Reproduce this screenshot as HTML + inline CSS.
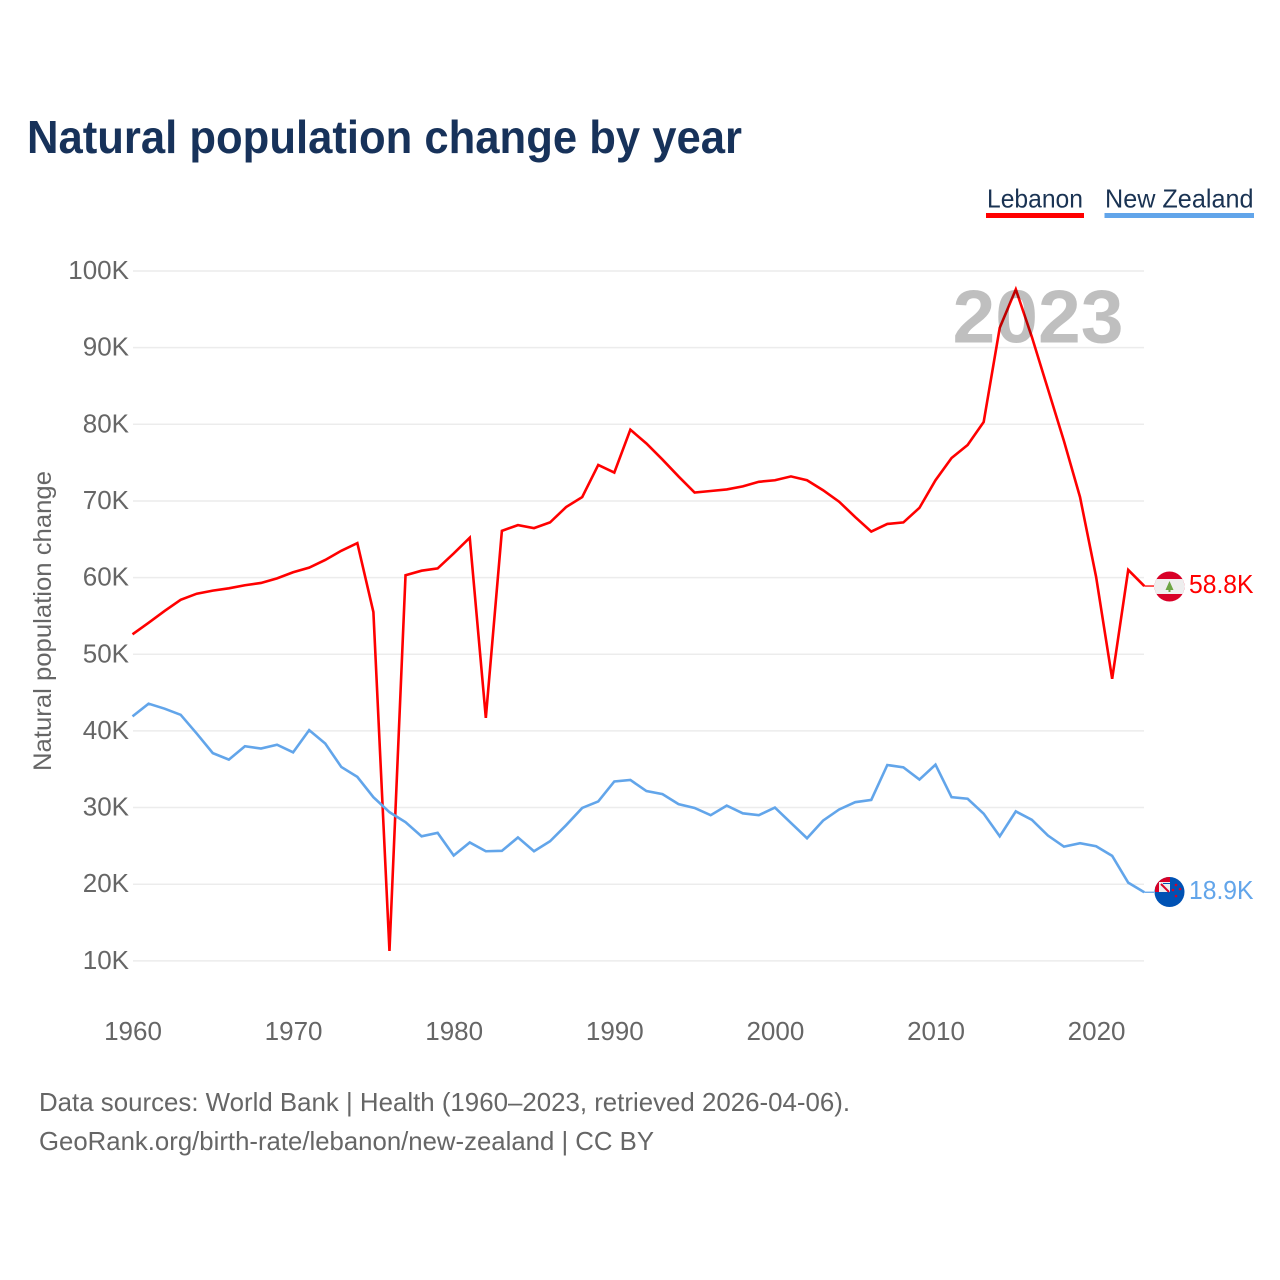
<!DOCTYPE html>
<html lang="en">
<head>
<meta charset="utf-8">
<title>Natural population change by year</title>
<style>
html,body{margin:0;padding:0;background:#fff;width:1280px;height:1280px;overflow:hidden}
svg{display:block}
text{font-family:"Liberation Sans",sans-serif}
.tick{font-size:26px;fill:#666}
.foot{font-size:26px;fill:#666}
.leg{font-size:26px;fill:#1a3353}
</style>
</head>
<body>
<svg id="chart" xmlns="http://www.w3.org/2000/svg" width="1280" height="1280" viewBox="0 0 1280 1280">
  <rect width="1280" height="1280" fill="#fff"/>
  <text x="27" y="153" font-size="46" font-weight="700" fill="#17325a" textLength="715" lengthAdjust="spacingAndGlyphs">Natural population change by year</text>

  <g>
    <text class="leg" x="987" y="207.500" textLength="96" lengthAdjust="spacingAndGlyphs">Lebanon</text>
    <rect x="986" y="213" width="98" height="5" fill="#ff0000"/>
  </g>
  <g>
    <text class="leg" x="1105" y="207.500" textLength="148.500" lengthAdjust="spacingAndGlyphs">New Zealand</text>
    <rect x="1104.5" y="213" width="149.5" height="5" fill="#62a5ea"/>
  </g>

  <g id="grid"></g>
  <g id="yTicks"></g>
  <g id="xTicks"></g>
  <text transform="translate(51 621) rotate(-90)" text-anchor="middle" font-size="25" fill="#666" textLength="300" lengthAdjust="spacingAndGlyphs">Natural population change</text>

  <g id="series"></g>

  <text x="1123.5" y="342.500" text-anchor="end" font-size="75" font-weight="700" fill="#000" fill-opacity="0.25" textLength="171" lengthAdjust="spacingAndGlyphs">2023</text>

  <g id="ends"></g>

  <defs>
    <clipPath id="clipLb"><circle cx="1169.5" cy="586.5" r="15"/></clipPath>
    <clipPath id="clipNz"><circle cx="1169.5" cy="892" r="15"/></clipPath>
  </defs>
  <g clip-path="url(#clipLb)">
    <rect x="1154" y="571" width="31" height="31" fill="#d80027"/>
    <rect x="1154" y="579" width="31" height="15" fill="#eeeeee"/>
    <polygon points="1169.5,581 1173.5,590 1170.5,590 1170.5,592 1168.5,592 1168.5,590 1165.5,590" fill="#6da544"/>
  </g>
  <g clip-path="url(#clipNz)">
    <rect x="1154" y="877" width="31" height="31" fill="#0052b4"/>
    <rect x="1155" y="877" width="15" height="15" fill="#d80027"/>
    <rect x="1159" y="882" width="11" height="10" fill="#eeeeee"/>
    <path d="M1161 884 L1169 892" stroke="#d80027" stroke-width="2" fill="none"/>
    <path d="M1163 883.500 L1170 883.500" stroke="#0052b4" stroke-width="1" fill="none"/>
    <circle cx="1176" cy="885" r="1.3" fill="#d80027"/>
    <circle cx="1173" cy="890" r="1.3" fill="#d80027"/>
    <circle cx="1180" cy="889" r="1.3" fill="#d80027"/>
    <circle cx="1176" cy="896" r="1.3" fill="#d80027"/>
  </g>

  <text class="foot" x="39" y="1111" textLength="811" lengthAdjust="spacingAndGlyphs">Data sources: World Bank | Health (1960–2023, retrieved 2026-04-06).</text>
  <text class="foot" x="39" y="1150" textLength="615" lengthAdjust="spacingAndGlyphs">GeoRank.org/birth-rate/lebanon/new-zealand | CC BY</text>
</svg>
<script>
var years = [1960,1961,1962,1963,1964,1965,1966,1967,1968,1969,1970,1971,1972,1973,1974,1975,1976,1977,1978,1979,1980,1981,1982,1983,1984,1985,1986,1987,1988,1989,1990,1991,1992,1993,1994,1995,1996,1997,1998,1999,2000,2001,2002,2003,2004,2005,2006,2007,2008,2009,2010,2011,2012,2013,2014,2015,2016,2017,2018,2019,2020,2021,2022,2023];
var lebanonValues = [52.6,54.1,55.65,57.1,57.9,58.3,58.6,59.0,59.3,59.9,60.7,61.3,62.3,63.5,64.5,55.5,11.3,60.3,60.9,61.2,63.15,65.2,41.7,66.1,66.85,66.45,67.2,69.2,70.5,74.7,73.7,79.3,77.5,75.4,73.2,71.1,71.3,71.5,71.9,72.5,72.7,73.2,72.7,71.4,69.9,67.9,66.0,67.0,67.2,69.1,72.7,75.6,77.3,80.3,92.6,97.6,91.4,84.6,77.8,70.5,60.1,46.8,61.0,58.9];
var newZealandValues = [41.9,43.55,42.9,42.1,39.65,37.1,36.25,38.0,37.7,38.2,37.2,40.1,38.35,35.3,34.0,31.35,29.4,28.1,26.25,26.7,23.75,25.45,24.3,24.35,26.1,24.3,25.6,27.7,29.95,30.8,33.4,33.6,32.15,31.75,30.45,29.95,29.0,30.25,29.25,29.0,30.0,28.0,26.0,28.3,29.75,30.7,31.0,35.55,35.25,33.65,35.6,31.35,31.15,29.2,26.25,29.5,28.4,26.35,24.9,25.35,24.95,23.7,20.2,18.95];
var yTickValues = [100,90,80,70,60,50,40,30,20,10];
var xTickValues = [1960,1970,1980,1990,2000,2010,2020];
var lebanonLabel = "58.8K";
var newZealandLabel = "18.9K";

var NS = "http://www.w3.org/2000/svg";
function xScale(year){ return 132.5 + (year - 1960) * 16.06; }
function yScale(value){ return 271 + (100 - value) * 7.665; }
function make(tag, parent, attrs){
  var el = document.createElementNS(NS, tag);
  for (var k in attrs) el.setAttribute(k, attrs[k]);
  parent.appendChild(el);
  return el;
}
var gridG = document.getElementById('grid');
var yG = document.getElementById('yTicks');
var xG = document.getElementById('xTicks');
var seriesG = document.getElementById('series');
var endsG = document.getElementById('ends');

yTickValues.forEach(function(v){
  var line = make('line', gridG, {x1:133, x2:1144, y1:yScale(v), y2:yScale(v), stroke:'#ececec', 'stroke-width':1.5});
  
  
  var t = make('text', yG, {x:129, y:yScale(v) + 8, 'text-anchor':'end', 'class':'tick'});
  t.textContent = v + 'K';
  
  
});
xTickValues.forEach(function(y){
  var t = make('text', xG, {x:xScale(y) + 0.5, y:1040, 'text-anchor':'middle', 'class':'tick'});
  t.textContent = y;
  
  
});
function pathFor(values){
  return values.map(function(v, i){
    return (i ? 'L' : 'M') + xScale(years[i]).toFixed(2) + ' ' + yScale(v).toFixed(2);
  }).join(' ');
}
var lbLine = make('path', seriesG, {d:pathFor(lebanonValues), fill:'none', stroke:'#ff0000', 'stroke-width':2.6, 'stroke-linejoin':'miter'});


var nzLine = make('path', seriesG, {d:pathFor(newZealandValues), fill:'none', stroke:'#62a5ea', 'stroke-width':2.6, 'stroke-linejoin':'miter'});



var lastLb = yScale(lebanonValues[lebanonValues.length - 1]);
var lastNz = yScale(newZealandValues[newZealandValues.length - 1]);
var lbLead = make('line', endsG, {x1:xScale(2023), x2:1154, y1:lastLb, y2:lastLb, stroke:'#ff0000', 'stroke-width':1.3});


var nzLead = make('line', endsG, {x1:xScale(2023), x2:1154, y1:lastNz, y2:lastNz, stroke:'#62a5ea', 'stroke-width':1.3});


var lbText = make('text', endsG, {x:1189, y:lastLb + 7, 'font-size':26, fill:'#ff0000', textLength:64.5, lengthAdjust:'spacingAndGlyphs'});
lbText.textContent = lebanonLabel;


var nzText = make('text', endsG, {x:1189, y:lastNz + 7, 'font-size':26, fill:'#62a5ea', textLength:64.5, lengthAdjust:'spacingAndGlyphs'});
nzText.textContent = newZealandLabel;


</script>
</body>
</html>
